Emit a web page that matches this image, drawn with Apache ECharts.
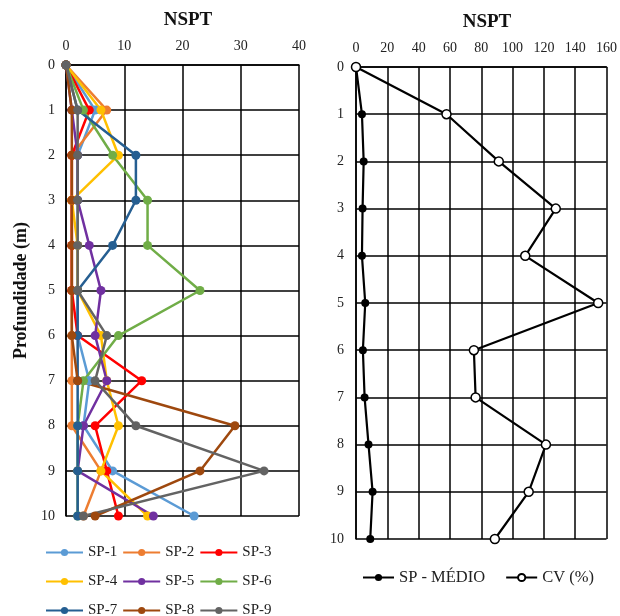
<!DOCTYPE html>
<html>
<head>
<meta charset="utf-8">
<script src="https://cdn.jsdelivr.net/npm/echarts@6/dist/echarts.min.js"></script>
<style>html,body{margin:0;padding:0;background:#fff}#c{width:620px;height:616px}</style>
</head>
<body>
<div id="c"></div>
<script>
const depth = [0, 1, 2, 3, 4, 5, 6, 7, 8, 9, 10];
const sp1 = [0, 5, 2, 2, 2, 2, 2, 4, 3, 8, 22];
const sp2 = [0, 7, 1, 1, 1, 1, 1, 1, 1, 6, 3];
const sp3 = [0, 4, 1, 1, 1, 1, 2, 13, 5, 7, 9];
const sp4 = [0, 6, 9, 1, 2, 2, 6, 7, 9, 6, 14];
const sp5 = [0, 1, 2, 2, 4, 6, 5, 7, 3, 2, 15];
const sp6 = [0, 3, 8, 14, 14, 23, 9, 3, 2, 2, 2];
const sp7 = [0, 2, 12, 12, 8, 2, 2, 2, 2, 2, 2];
const sp8 = [0, 1, 1, 1, 1, 1, 1, 2, 29, 23, 5];
const sp9 = [0, 2, 2, 2, 2, 2, 7, 5, 12, 34, 3];
const spMedio = [0, 3.8, 4.9, 4.2, 3.8, 5.9, 4.4, 5.5, 8, 10.6, 9.1];
const cvPct = [0, 57.8, 91.2, 127.6, 108.1, 154.7, 75.3, 76.4, 121.3, 110.3, 88.7];

const spNames = ['SP-1','SP-2','SP-3','SP-4','SP-5','SP-6','SP-7','SP-8','SP-9'];
const spData = [sp1, sp2, sp3, sp4, sp5, sp6, sp7, sp8, sp9];
const spColors = ['#5B9BD5','#ED7D31','#FF0000','#FFC000','#7030A0','#70AD47','#255E91','#9E480E','#636363'];

const FONT = 'Liberation Serif';
const pair = arr => depth.map((d, i) => [arr[i], d]);

const series = spNames.map((n, k) => ({
  name: n, type: 'line', xAxisIndex: 0, yAxisIndex: 0,
  data: pair(spData[k]), symbol: 'circle', symbolSize: 9,
  lineStyle: { color: spColors[k], width: 2.5 },
  itemStyle: { color: spColors[k] },
  clip: false, animation: false
}));
series.push({
  name: 'SP - MÉDIO', type: 'line', xAxisIndex: 1, yAxisIndex: 1,
  data: pair(spMedio), symbol: 'circle', symbolSize: 8,
  lineStyle: { color: '#000', width: 2.2 }, itemStyle: { color: '#000' },
  clip: false, animation: false
});
series.push({
  name: 'CV (%)', type: 'line', xAxisIndex: 1, yAxisIndex: 1,
  data: pair(cvPct), symbol: 'circle', symbolSize: 9,
  lineStyle: { color: '#000', width: 2.2 },
  itemStyle: { color: '#fff', borderColor: '#000', borderWidth: 1.5 },
  clip: false, animation: false
});

const axisText = { fontFamily: FONT, fontSize: 14, color: '#222' };
const splitLine = { show: true, lineStyle: { color: '#000', width: 1.5 } };
const axisLine = { show: true, lineStyle: { color: '#000', width: 1.5 } };

function legendRow(items, top) {
  return {
    data: items, top: top, left: 40, itemWidth: 37, itemHeight: 9, itemGap: 5,
    textStyle: { fontFamily: FONT, fontSize: 15, color: '#222', width: 32 }
  };
}

const option = {
  backgroundColor: '#fff',
  animation: false,
  title: [
    { text: 'NSPT', left: 183, top: 6, textAlign: 'center',
      textStyle: { fontFamily: FONT, fontSize: 19, fontWeight: 'bold', color: '#111' } },
    { text: 'NSPT', left: 482, top: 8, textAlign: 'center',
      textStyle: { fontFamily: FONT, fontSize: 19, fontWeight: 'bold', color: '#111' } }
  ],
  legend: [
    legendRow(['SP-1','SP-2','SP-3'], 540),
    legendRow(['SP-4','SP-5','SP-6'], 569),
    legendRow(['SP-7','SP-8','SP-9'], 598),
    { data: ['SP - MÉDIO','CV (%)'], top: 564, left: 357, itemWidth: 31, itemHeight: 9, itemGap: 20,
      textStyle: { fontFamily: FONT, fontSize: 16.5, color: '#222' } }
  ],
  grid: [
    { left: 66, top: 65, width: 233, height: 451 },
    { left: 356, top: 67, width: 252, height: 472 }
  ],
  xAxis: [
    { type: 'value', gridIndex: 0, position: 'top', min: 0, max: 40, interval: 10,
      axisLine, splitLine, axisTick: { show: false },
      axisLabel: Object.assign({ margin: 12 }, axisText) },
    { type: 'value', gridIndex: 1, position: 'top', min: 0, max: 160, interval: 20,
      axisLine, splitLine, axisTick: { show: false },
      axisLabel: Object.assign({ margin: 12 }, axisText) }
  ],
  yAxis: [
    { type: 'value', gridIndex: 0, inverse: true, min: 0, max: 10, interval: 1,
      axisLine, splitLine, axisTick: { show: false },
      axisLabel: Object.assign({ margin: 11 }, axisText),
      name: 'Profundidade (m)', nameLocation: 'middle', nameGap: 36, nameRotate: 90,
      nameTextStyle: { fontFamily: FONT, fontSize: 18, fontWeight: 'bold', color: '#111' } },
    { type: 'value', gridIndex: 1, inverse: true, min: 0, max: 10, interval: 1,
      axisLine, splitLine, axisTick: { show: false },
      axisLabel: Object.assign({ margin: 12 }, axisText) }
  ],
  series
};

const chart = echarts.init(document.getElementById('c'), null, { renderer: 'canvas' });
chart.setOption(option);
</script>
</body>
</html>
